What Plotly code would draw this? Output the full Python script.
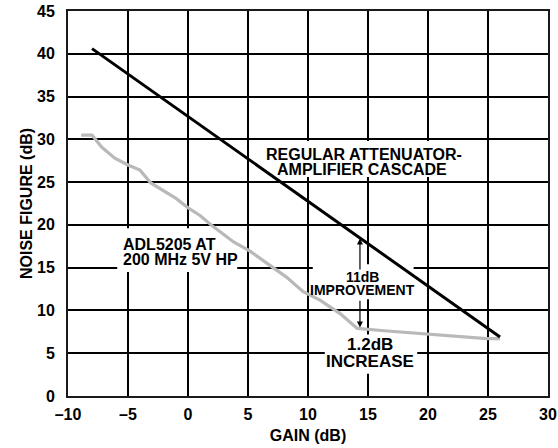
import plotly.graph_objects as go

# regular attenuator-amplifier cascade (straight line)
cascade_gain = [-8.0, 26.0]
cascade_nf = [40.6, 6.9]

# ADL5205 at 200 MHz, 5V HP
adl_gain = [-8.9, -8.0, -7.2, -6.1, -5.0, -4.0, -3.1, -1.7, -1.0, 0.0, 1.0, 2.1, 3.8,
            5.2, 6.6, 8.2, 9.6, 11.0, 12.7, 14.1, 16.6, 19.3, 22.7, 24.9, 26.0]
adl_nf = [30.5, 30.5, 29.1, 27.8, 27.0, 26.4, 24.9, 23.7, 23.1, 22.0, 21.1, 19.8, 18.0,
          16.9, 15.5, 13.9, 12.2, 11.2, 9.6, 7.9, 7.6, 7.3, 7.0, 6.7, 6.7]

x_ticks = [-10, -5, 0, 5, 10, 15, 20, 25, 30]
x_labels = ['–10', '–5', '0', '5', '10', '15', '20', '25', '30']
y_ticks = [0, 5, 10, 15, 20, 25, 30, 35, 40, 45]

FONT = 'Liberation Sans, Arial, Helvetica, sans-serif'


def bold(size):
    return dict(family=FONT, size=size, color='black', weight='bold')


fig = go.Figure()
fig.add_trace(go.Scatter(x=adl_gain, y=adl_nf, mode='lines',
                         line=dict(color='#b9b9b9', width=3.2), hoverinfo='skip'))
fig.add_trace(go.Scatter(x=cascade_gain, y=cascade_nf, mode='lines',
                         line=dict(color='black', width=3), hoverinfo='skip'))

# white boxes that break the grid behind the labels
boxes = [(6.4, 23.3, 25.6, 29.8),
         (-5.9, 4.1, 14.5, 19.6),
         (10.4, 18.8, 11.3, 15.4),
         (11.4, 19.1, 2.6, 7.2)]
for x0, x1, y0, y1 in boxes:
    fig.add_shape(type='rect', x0=x0, x1=x1, y0=y0, y1=y1, xref='x', yref='y',
                  fillcolor='white', line=dict(width=0), layer='between')

labels = [
    ('REGULAR ATTENUATOR-', 14.63, 28.2, 16, 'center'),
    ('AMPLIFIER CASCADE', 14.54, 26.5, 16, 'center'),
    ('ADL5205 AT', -5.6, 17.7, 16, 'left'),
    ('200 MHz 5V HP', -5.6, 15.9, 16, 'left'),
    ('11dB', 14.58, 13.9, 14, 'center'),
    ('IMPROVEMENT', 14.54, 12.4, 14, 'center'),
    ('1.2dB', 15.17, 6.0, 17, 'center'),
    ('INCREASE', 15.2, 4.0, 17, 'center'),
]
for txt, x, y, size, anchor in labels:
    fig.add_annotation(x=x, y=y, text=txt, showarrow=False, xanchor=anchor,
                       yanchor='middle', font=bold(size))

# improvement arrows
for tip, tail in [(18.4, 14.6), (8.0, 11.3)]:
    fig.add_annotation(x=14.33, y=tip, ax=14.33, ay=tail, axref='x', ayref='y',
                       text='', showarrow=True, arrowhead=2, arrowsize=1,
                       arrowwidth=1.2, arrowcolor='black')

axis_common = dict(showgrid=True, gridcolor='black', gridwidth=1.6,
                   showline=True, mirror=True, linecolor='#1a1a1a', linewidth=2,
                   zeroline=False, ticks='', tickfont=bold(16), automargin=False,
                   ticklabeloverflow='allow')

fig.update_layout(
    width=558, height=448, autosize=False,
    margin=dict(l=68, r=10, t=11, b=52),
    plot_bgcolor='white', paper_bgcolor='white',
    showlegend=False,
    xaxis=dict(range=[-10, 30], tickvals=x_ticks, ticktext=x_labels,
               ticklabelstandoff=3,
               title=dict(text='GAIN (dB)', font=bold(16), standoff=8),
               **axis_common),
    yaxis=dict(range=[0, 45], tickvals=y_ticks, ticklabelstandoff=8,
               title=dict(text='NOISE FIGURE (dB)', font=bold(16), standoff=0),
               **axis_common),
)

# drop the default 8px page margin so the figure sits at the window's corner
fig.write_html("out.html", config={'displayModeBar': False},
               post_script="document.body.style.margin='0';")
